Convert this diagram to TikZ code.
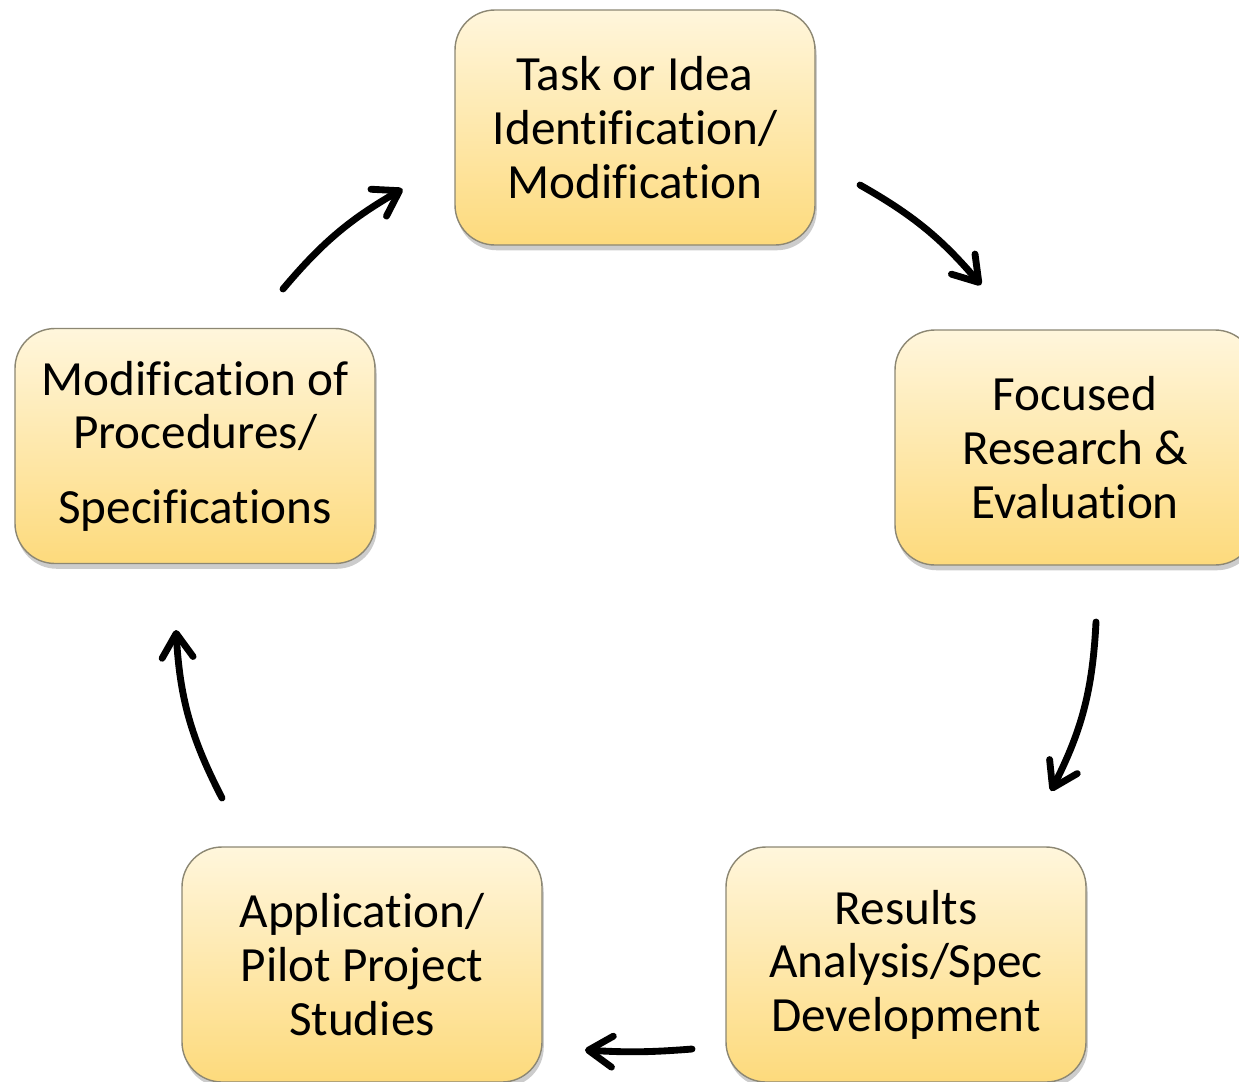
\documentclass[tikz,border=0pt]{standalone}
\usepackage{fontspec}
\setmainfont{Carlito}[Ligatures=NoCommon]
\usepackage{xcolor}
\usetikzlibrary{arrows.meta}
\usetikzlibrary{shadows}

\definecolor{boxtop}{RGB}{255,246,220}
\definecolor{boxbottom}{RGB}{253,218,124}
\definecolor{boxedge}{RGB}{140,135,115}

\begin{document}
\begin{tikzpicture}[every node/.style={font=\fontsize{28}{30.5}\selectfont},
    stagebox/.style={rounded corners=0.8cm, minimum width=7.2cm, minimum height=4.7cm,
        draw=boxedge, line width=0.8pt, top color=boxtop, bottom color=boxbottom, align=center,
        drop shadow={shadow xshift=1pt, shadow yshift=-3pt, opacity=0.4}},
    cyclearrow/.style={line width=3.9pt, line cap=round, line join=round,
        -{Straight Barb[length=0.48cm, width=0.62cm, line cap=round, line join=round]}}]

    \useasboundingbox (0,0) rectangle (24.78,-21.62);

    %===========================
    % Stages
    %===========================
    \draw node (task) at (12.70,-2.55) [stagebox] {Task or Idea\\Identification/\\Modification};
    \draw node (research) at (21.50,-8.95) [stagebox] {Focused\\Research \&\\Evaluation};
    \draw node (results) at (18.12,-19.29) [stagebox] {Results\\Analysis/Spec\\Development};
    \draw node (pilot) at (7.24,-19.29) [stagebox] {Application/\\Pilot Project\\Studies};
    \draw node (procs) at (3.90,-8.92) [stagebox] {Modification of\\Procedures/\\[0.42cm]Specifications};

    %===========================
    % Cycle arrows
    %===========================
    \coordinate (a1s) at (17.20,-3.70);
    \coordinate (a1e) at (19.62,-5.70);
    \coordinate (a2s) at (21.92,-12.44);
    \coordinate (a2e) at (21.02,-15.82);
    \coordinate (a3s) at (13.84,-20.98);
    \coordinate (a3e) at (11.70,-21.00);
    \coordinate (a4s) at (4.44,-15.96);
    \coordinate (a4e) at (3.52,-12.60);
    \coordinate (a5s) at (5.66,-5.78);
    \coordinate (a5e) at (8.05,-3.78);

    \draw[cyclearrow] (a1s) to[bend left=10] (a1e);
    \draw[cyclearrow] (a2s) to[bend left=12] (a2e);
    \draw[cyclearrow] (a3s) to[bend left=4] (a3e);
    \draw[cyclearrow] (a4s) to[bend left=12] (a4e);
    \draw[cyclearrow] (a5s) to[bend left=10] (a5e);

\end{tikzpicture}
\end{document}
